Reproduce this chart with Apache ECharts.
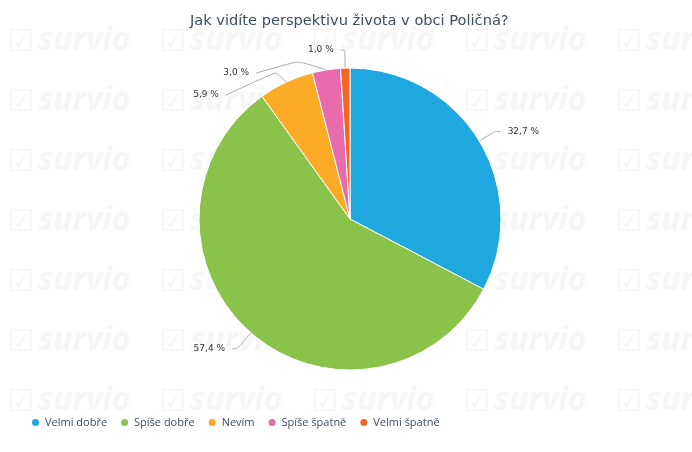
<!DOCTYPE html>
<html><head><meta charset="utf-8">
<script src="https://cdn.jsdelivr.net/npm/echarts@6/dist/echarts.min.js"></script>
<style>html,body{margin:0;padding:0;background:#fff}#c{width:692px;height:452px}</style>
</head><body><div id="c"></div>
<script>
const categories = ['Velmi dobře', 'Spíše dobře', 'Nevím', 'Spíše špatně', 'Velmi špatně'];
const values = [32.7, 57.4, 5.9, 3.0, 1.0];
const colors = ['#1fa8e0', '#8bc34a', '#fdab27', '#e86bae', '#f26522'];
const titleText = 'Jak vidíte perspektivu života v obci Poličná?';
// label guide line lengths per slice [first segment, second segment]
const guideLengths = [[18, 6], [21, 5], [12, 50], [12, 42], [18, 4]];
// vertical label nudges per slice
const labelNudge = [0, 0, 23, 12, 0];

const wm = [];
for (let r = 0; r < 7; r++) {
  for (let c = 0; c < 5; c++) {
    const x = 7 + c * 152, y = 28 + r * 60;
    wm.push({type:'text', left:x, top:y, silent:true, z:-10,
      style:{text:'☑', fontSize:30, fill:'#f6f6f6', fontFamily:'DejaVu Sans', fontWeight:'bold'}});
    wm.push({type:'text', left:x+31, top:y-3, silent:true, z:-10,
      style:{text:'survio', fontSize:32, fontWeight:'bold', fontStyle:'italic', fill:'#f6f6f6', fontFamily:'Open Sans'}});
  }
}

const chart = echarts.init(document.getElementById('c'), null, {renderer:'canvas'});
chart.setOption({
  animation:false,
  color: colors,
  graphic: wm,
  title: {text: titleText, left:185, top:9,
    textStyle:{fontSize:14.6, fontWeight:'normal', color:'#3b4f63', fontFamily:'DejaVu Sans'}},
  legend: {left:25, bottom:19, icon:'circle', itemWidth:9, itemHeight:9, itemGap:12,
    textStyle:{fontSize:11, color:'#3b4f63', fontFamily:'Open Sans'},
    data: categories},
  series: [{
    type:'pie', center:[350,219], radius:151, startAngle:90, clockwise:true,
    itemStyle:{borderColor:'#fff', borderWidth:1},
    label:{show:true, formatter: p => p.value.toFixed(1).replace('.', ',') + ' %',
      fontSize:9, color:'#333', fontFamily:'DejaVu Sans', distanceToLabelLine:7},
    labelLine:{show:true, smooth:0.15, lineStyle:{color:'#aaa', width:1}},
    labelLayout: p => {
      const d = labelNudge[p.dataIndex];
      if (!d || !p.labelLinePoints) return {};
      const pts = p.labelLinePoints;
      return {dy: d, labelLinePoints: [pts[0], pts[1], [pts[2][0], pts[2][1] + d]]};
    },
    data: categories.map((n,i)=>({name:n, value:values[i],
      labelLine:{length:guideLengths[i][0], length2:guideLengths[i][1]}}))
  }]
});
</script></body></html>
